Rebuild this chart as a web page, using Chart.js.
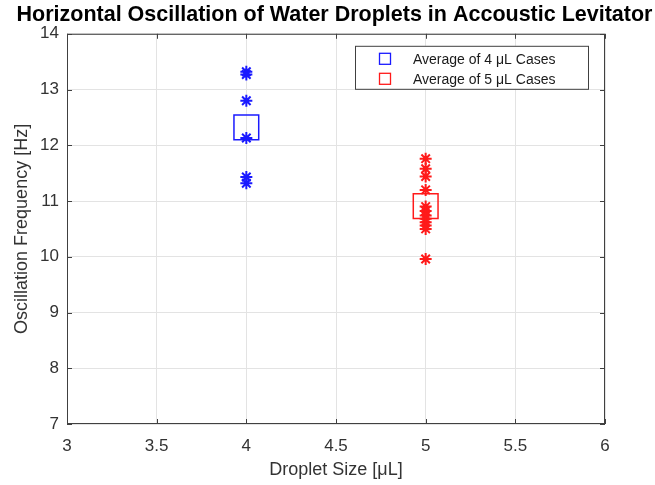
<!DOCTYPE html>
<html>
<head>
<meta charset="utf-8">
<script src="https://cdn.jsdelivr.net/npm/chart.js@4/dist/chart.umd.min.js"></script>
<style>
  html, body { margin: 0; padding: 0; background: #fff; }
  #wrap { width: 655px; height: 485px; }
</style>
</head>
<body>
<div id="wrap"><canvas id="c"></canvas></div>
<script>
// droplet data
const blueX = [4, 4, 4, 4, 4, 4];
const blueY = [13.32, 13.27, 12.80, 12.13, 11.43, 11.32];
const redX = [5, 5, 5, 5, 5, 5, 5, 5, 5, 5, 5, 5];
const redY = [11.76, 11.58, 11.44, 11.20, 10.90, 10.82, 10.74, 10.68, 10.62, 10.56, 10.50, 9.96];
const avgBlue = [4, 12.32];
const avgRed = [5, 10.91];
const legendLabels = ["Average of 4 \u03BCL Cases", "Average of 5 \u03BCL Cases"];

const BLUE = "#1a1aff";
const RED = "#ff1a1a";
const FONT = "'Liberation Sans', Arial, sans-serif";

const toPts = (xs, ys) => xs.map((x, i) => ({ x, y: ys[i] }));

// box round the axes with inward ticks, MATLAB style
const boxPlugin = {
    id: "box",
    afterDatasetsDraw(chart) {
        const { ctx, chartArea: a, scales } = chart;
        ctx.save();
        ctx.strokeStyle = "#404040";
        ctx.lineWidth = 1;
        ctx.strokeRect(a.left + 0.5, a.top + 0.5, a.width - 1, a.height - 1);
        ctx.beginPath();
        scales.x.ticks.forEach((t, i) => {
            const px = Math.round(scales.x.getPixelForTick(i)) + 0.5;
            ctx.moveTo(px, a.bottom); ctx.lineTo(px, a.bottom - 5);
            ctx.moveTo(px, a.top); ctx.lineTo(px, a.top + 5);
        });
        scales.y.ticks.forEach((t, i) => {
            const py = Math.round(scales.y.getPixelForTick(i)) + 0.5;
            ctx.moveTo(a.left, py); ctx.lineTo(a.left + 5, py);
            ctx.moveTo(a.right, py); ctx.lineTo(a.right - 5, py);
        });
        ctx.stroke();
        ctx.restore();
    }
};

// legend box in the top right corner of the axes
const legendPlugin = {
    id: "boxLegend",
    afterDraw(chart) {
        const { ctx, chartArea: a } = chart;
        const left = a.right - 250, top = a.top + 12, w = 233, h = 43;
        ctx.save();
        ctx.fillStyle = "#fff";
        ctx.fillRect(left, top, w, h);
        ctx.strokeStyle = "#404040";
        ctx.lineWidth = 1;
        ctx.strokeRect(left + 0.5, top + 0.5, w, h);
        const cols = [BLUE, RED];
        ctx.font = "14px " + FONT;
        ctx.textBaseline = "middle";
        legendLabels.forEach((lab, i) => {
            const cy = top + 13 + i * 20;
            ctx.strokeStyle = cols[i];
            ctx.lineWidth = 1.3;
            ctx.strokeRect(left + 24.5, cy - 5.5, 11, 11);
            ctx.fillStyle = "#1a1a1a";
            ctx.fillText(lab, left + 58, cy + 1);
        });
        ctx.restore();
    }
};

new Chart(document.getElementById("c"), {
    type: "scatter",
    data: {
        datasets: [
            {
                data: toPts(blueX, blueY),
                pointStyle: "star",
                radius: 6,
                borderColor: BLUE,
                borderWidth: 2
            },
            {
                data: toPts(redX, redY),
                pointStyle: "star",
                radius: 6,
                borderColor: RED,
                borderWidth: 2
            },
            {
                data: [{ x: avgBlue[0], y: avgBlue[1] }],
                pointStyle: "rect",
                radius: 17.5,
                borderColor: BLUE,
                backgroundColor: "rgba(0,0,0,0)",
                borderWidth: 1.5
            },
            {
                data: [{ x: avgRed[0], y: avgRed[1] }],
                pointStyle: "rect",
                radius: 17.5,
                borderColor: RED,
                backgroundColor: "rgba(0,0,0,0)",
                borderWidth: 1.5
            }
        ]
    },
    options: {
        responsive: true,
        maintainAspectRatio: false,
        animation: false,
        layout: { padding: { left: 14, right: 0, top: 0, bottom: 0 } },
        plugins: {
            legend: { display: false },
            tooltip: { enabled: false },
            title: {
                display: true,
                text: "Horizontal Oscillation of Water Droplets in Accoustic Levitator",
                color: "#000",
                font: { family: FONT, size: 21.5, weight: "bold" },
                padding: { top: 2, bottom: 6 }
            }
        },
        scales: {
            x: {
                type: "linear",
                min: 3,
                max: 6,
                ticks: {
                    stepSize: 0.5,
                    color: "#333",
                    padding: 12,
                    font: { family: FONT, size: 17 },
                    callback: v => String(v)
                },
                grid: { color: "#e3e3e3", drawTicks: false },
                border: { display: false },
                title: {
                    display: true,
                    text: "Droplet Size [\u03BCL]",
                    color: "#333",
                    font: { family: FONT, size: 18 },
                    padding: { top: 0 }
                },
                afterFit: s => { s.height = 61; }
            },
            y: {
                min: 7,
                max: 14,
                ticks: {
                    stepSize: 1,
                    color: "#333",
                    padding: 8,
                    font: { family: FONT, size: 17 }
                },
                grid: { color: "#e3e3e3", drawTicks: false },
                border: { display: false },
                title: {
                    display: true,
                    text: "Oscillation Frequency [Hz]",
                    color: "#333",
                    font: { family: FONT, size: 18 },
                    padding: { top: -3, bottom: 4 }
                },
                afterFit: s => { s.width = 53; }
            },
            // empty axis that only keeps the right margin free
            yRight: {
                position: "right",
                min: 7,
                max: 14,
                ticks: { display: false },
                grid: { display: false, drawTicks: false },
                border: { display: false },
                afterFit: s => { s.width = 50; }
            }
        }
    },
    plugins: [boxPlugin, legendPlugin]
});
</script>
</body>
</html>
